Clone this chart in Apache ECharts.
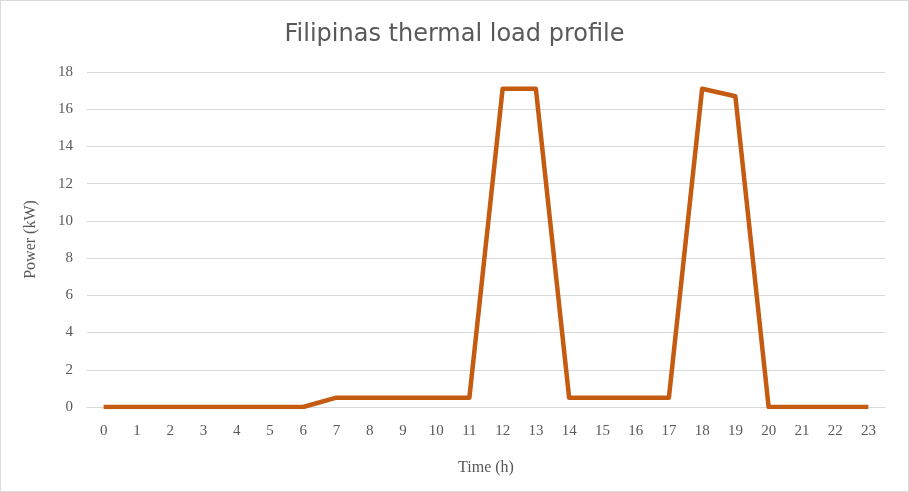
<!DOCTYPE html>
<html>
<head>
<meta charset="utf-8">
<script src="https://cdn.jsdelivr.net/npm/echarts@6/dist/echarts.min.js"></script>
<style>
  html, body { margin: 0; padding: 0; background: #fff; }
  #chart { width: 909px; height: 492px; box-sizing: border-box; border: 1px solid #d9d9d9; }
</style>
</head>
<body>
<div id="chart"></div>
<script>
const hours = ["0","1","2","3","4","5","6","7","8","9","10","11","12","13","14","15","16","17","18","19","20","21","22","23"];
const powerKw = [0, 0, 0, 0, 0, 0, 0, 0.5, 0.5, 0.5, 0.5, 0.5, 17.1, 17.1, 0.5, 0.5, 0.5, 0.5, 17.1, 16.7, 0, 0, 0, 0];

const serif = "'Liberation Serif', 'DejaVu Serif', serif";
const chart = echarts.init(document.getElementById("chart"));
chart.setOption({
  animation: false,
  title: {
    text: "Filipinas thermal load profile",
    left: "center",
    top: 17,
    textStyle: { fontFamily: "'DejaVu Sans', sans-serif", fontWeight: "normal", fontSize: 24, color: "#595959" }
  },
  grid: { left: 86, right: 23, top: 71, bottom: 84 },
  xAxis: {
    type: "category",
    data: hours,
    name: "Time (h)",
    nameLocation: "middle",
    nameGap: 53,
    nameTextStyle: { fontFamily: serif, fontSize: 16, color: "#595959" },
    axisLine: { lineStyle: { color: "#d9d9d9" } },
    axisTick: { show: false },
    axisLabel: { fontFamily: serif, fontSize: 15, color: "#595959", margin: 17 }
  },
  yAxis: {
    type: "value",
    min: 0,
    max: 18,
    interval: 2,
    name: "Power (kW)",
    nameLocation: "middle",
    nameGap: 48,
    nameTextStyle: { fontFamily: serif, fontSize: 16, color: "#595959" },
    axisLine: { show: false },
    axisTick: { show: false },
    axisLabel: { fontFamily: serif, fontSize: 15, color: "#595959", margin: 14 },
    splitLine: { lineStyle: { color: "#d9d9d9", width: 1 } }
  },
  series: [{
    type: "line",
    data: powerKw,
    symbol: "none",
    lineStyle: { color: "#c55a11", width: 4.5, join: "round" },
    itemStyle: { color: "#c55a11" }
  }]
});
</script>
</body>
</html>
